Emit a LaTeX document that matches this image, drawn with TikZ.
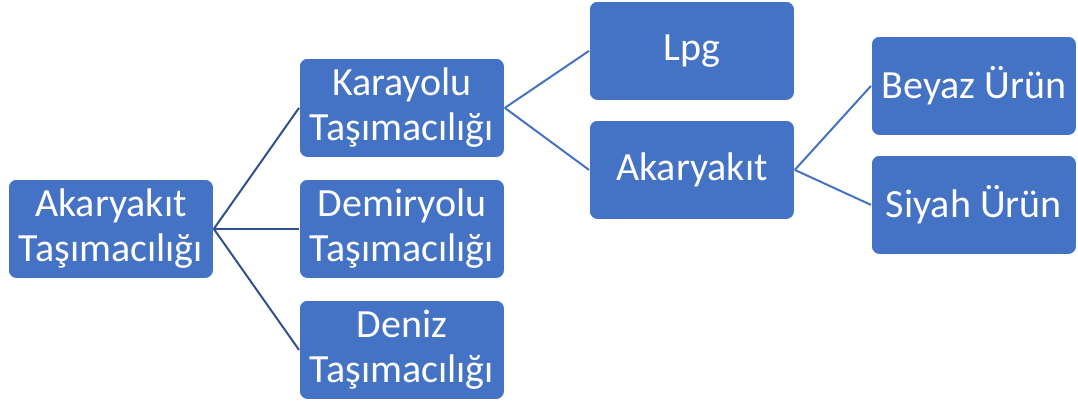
\documentclass[tikz,border=0pt]{standalone}
\usepackage{fontspec}
\setmainfont{Carlito}
\begin{document}
\begin{tikzpicture}[x=1pt,y=-1pt,
  box/.style={draw=white,line width=0.8pt,fill=boxblue,rounded corners=8pt,
    minimum width=205pt,minimum height=99pt,inner sep=0pt,anchor=north west,
    text=white,align=center,font=\fontsize{40}{45}\selectfont},
  lineA/.style={draw=lineblue,line width=2pt},
  lineB/.style={draw=boxblue,line width=2pt}]
\definecolor{boxblue}{HTML}{4472C4}
\definecolor{lineblue}{HTML}{2F528F}
\useasboundingbox (0,0) rectangle (1078,404);
\node[box] (root) at (8,179) {Akaryakıt\\Taşımacılığı};
\node[box] (kara) at (299,58) {Karayolu\\Taşımacılığı};
\node[box] (demir) at (299,179) {Demiryolu\\Taşımacılığı};
\node[box] (deniz) at (299,300) {Deniz\\Taşımacılığı};
\node[box] (lpg) at (589,1) {Lpg};
\node[box] (akar) at (589,120) {Akaryakıt};
\node[box] (beyaz) at (871,36) {Beyaz Ürün};
\node[box] (siyah) at (871,155) {Siyah Ürün};
\draw[lineA] (root.east) -- (kara.west);
\draw[lineA] (root.east) -- (demir.west);
\draw[lineA] (root.east) -- (deniz.west);
\draw[lineB] (kara.east) -- (lpg.west);
\draw[lineB] (kara.east) -- (akar.west);
\draw[lineB] (akar.east) -- (beyaz.west);
\draw[lineB] (akar.east) -- (siyah.west);
\end{tikzpicture}
\end{document}
